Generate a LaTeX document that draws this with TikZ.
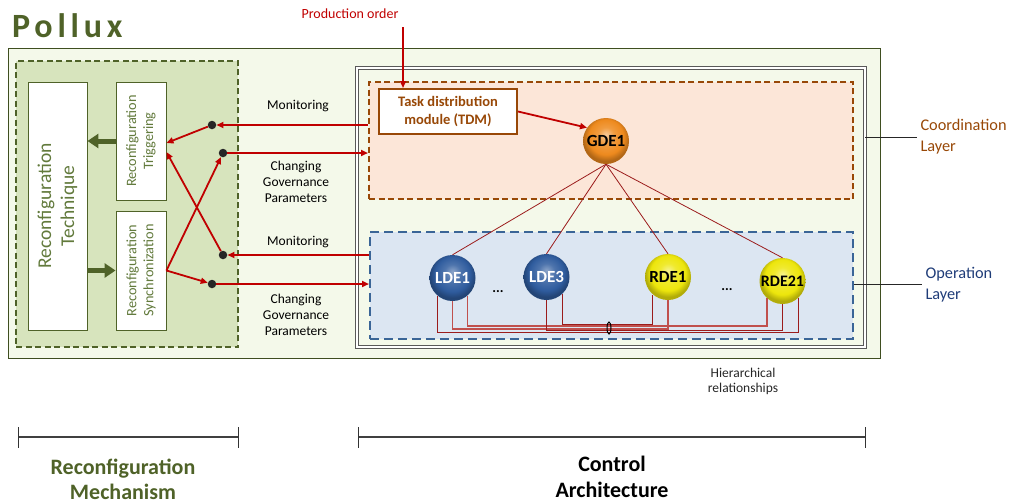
\documentclass[tikz,border=0pt]{standalone}
\usepackage{fontspec}
\setmainfont{Carlito}
\newfontfamily\titlefont{Carlito}[LetterSpace=14]
\usetikzlibrary{arrows.meta,shapes.geometric,calc}
\definecolor{pgreen}{HTML}{4F6228}
\definecolor{mechfill}{HTML}{D7E4BD}
\definecolor{pfill}{HTML}{F4F9EA}
\definecolor{techtext}{HTML}{627A3C}
\definecolor{myred}{HTML}{C00000}
\definecolor{brownc}{HTML}{984807}
\definecolor{coordfill}{HTML}{FCE6D8}
\definecolor{bluec}{HTML}{3A6597}
\definecolor{operfill}{HTML}{DCE6F2}
\definecolor{hred}{HTML}{9B1C1C}
\definecolor{lred}{HTML}{C0504D}
\definecolor{operlbl}{HTML}{1F3C78}
\definecolor{ballorange}{HTML}{EE8A1E}
\definecolor{ballblue}{HTML}{2F5C9E}
\definecolor{ballyellow}{HTML}{EDE60C}
\pgfdeclareradialshading{glossorange}{\pgfpoint{0bp}{7bp}}{color(0bp)=(ballorange!45!white); color(9bp)=(ballorange!85!white); color(19bp)=(ballorange); color(25bp)=(ballorange!75!black); color(50bp)=(ballorange!75!black)}
\pgfdeclareradialshading{glossblue}{\pgfpoint{0bp}{7bp}}{color(0bp)=(ballblue!55!white); color(9bp)=(ballblue!85!white); color(19bp)=(ballblue); color(25bp)=(ballblue!75!black); color(50bp)=(ballblue!75!black)}
\pgfdeclareradialshading{glossyellow}{\pgfpoint{0bp}{7bp}}{color(0bp)=(ballyellow!45!white); color(9bp)=(ballyellow!85!white); color(19bp)=(ballyellow); color(25bp)=(ballyellow!75!black); color(50bp)=(ballyellow!75!black)}
\begin{document}
\begin{tikzpicture}[x=1pt,y=-1pt,
  font=\fontsize{13.5}{16}\selectfont,
  redarr/.style={draw=myred, line width=1.8pt, -{Triangle[length=7pt,width=6pt]}},
  greenarr/.style={draw=pgreen, line width=5pt, -{Triangle[length=11pt,width=14pt]}},
  jdot/.style={circle, fill=black!85, minimum size=8.5pt, inner sep=0pt},
  whitebox/.style={draw=pgreen, fill=white, line width=0.9pt, inner sep=0pt, align=center, text=techtext},
  agent/.style={circle, minimum size=46pt, inner sep=0pt, font=\bfseries\fontsize{17}{17}\selectfont},
  hline/.style={draw=hred, line width=0.8pt},
  busdark/.style={draw=hred, line width=0.9pt},
  buslight/.style={draw=lred, line width=1.1pt},
  bracket/.style={draw=black!75, line width=1.3pt}
]
\useasboundingbox (0,0) rectangle (1014,501);

% title
\node[anchor=base west, inner sep=0pt, text=pgreen] (title) at (12,37) {\titlefont\bfseries\fontsize{34}{34}\selectfont Pollux};

% outer Pollux box
\node[draw=pgreen!80!black, fill=pfill, line width=1pt, minimum width=872pt, minimum height=310pt, inner sep=0pt] (pollux) at (444,203) {};

% reconfiguration mechanism
\node[draw=pgreen, fill=mechfill, line width=2pt, dash pattern=on 6pt off 3.5pt, minimum width=222pt, minimum height=286pt, inner sep=0pt] (mech) at (127,204) {};
\node[whitebox, rotate=90, minimum width=248pt, minimum height=59pt, font=\fontsize{19.5}{23}\selectfont] (tech) at (57.5,206) {Reconfiguration\\Technique};
\node[whitebox, rotate=90, minimum width=118pt, minimum height=50pt, font=\fontsize{14.3}{17}\selectfont] (trig) at (141,141) {Reconfiguration\\Triggering};
\node[whitebox, rotate=90, minimum width=119pt, minimum height=50pt, font=\fontsize{14.3}{17}\selectfont] (sync) at (141,270.5) {Reconfiguration\\Synchronization};

\draw[greenarr] (trig.north) -- (trig.north -| tech.south);
\draw[greenarr] (tech.south |- sync.north) -- (sync.north);

% control architecture
\node[draw=black!65, double=white, double distance=1.6pt, line width=0.9pt, fill=pfill, minimum width=508pt, minimum height=279pt, inner sep=0pt] (ctrl) at (611,207.5) {};
\node[draw=brownc, fill=coordfill, line width=2pt, dash pattern=on 6pt off 3.5pt, minimum width=484pt, minimum height=117pt, inner sep=0pt] (coord) at (611,140.5) {};
\node[draw=bluec, fill=operfill, line width=2pt, dash pattern=on 9pt off 5pt, minimum width=483pt, minimum height=107pt, inner sep=0pt] (oper) at (611.5,285.5) {};

% TDM
\node[draw=brownc, fill=white, line width=2pt, minimum width=138pt, minimum height=45pt, inner sep=0pt, align=center, text=brownc, font=\bfseries\fontsize{14.5}{18}\selectfont] (tdm) at (448,111.5) {Task distribution\\module\ (TDM)};

% production order
\node[text=myred, font=\fontsize{14}{16}\selectfont] (prod) at (350,14) {Production order};
\coordinate (pstart) at (403,27);
\draw[redarr] (pstart) -- (pstart |- tdm.north);

% dots
\node[jdot] (d1) at (212,125) {};
\node[jdot] (d2) at (223,153) {};
\node[jdot] (d3) at (223,255) {};
\node[jdot] (d4) at (212,284) {};

% red arrows
\draw[redarr] (coord.west |- d1) -- (d1);
\draw[redarr] (d2) -- (coord.west |- d2);
\draw[redarr] (oper.west |- d3) -- (d3);
\draw[redarr] (d4) -- (oper.west |- d4);
\draw[redarr] (d1) -- ([yshift=-2pt]trig.south);
\draw[redarr] (d3) -- ([yshift=-11pt]trig.south);
\draw[redarr] (sync.south) -- (d2);
\draw[redarr] (sync.south) -- (d4);

% labels between
\node (mon1) at (298,106) {Monitoring};
\node[align=center] (chg1) at (296,182) {Changing\\Governance\\Parameters};
\node (mon2) at (298,242) {Monitoring};
\node[align=center] (chg2) at (296,315) {Changing\\Governance\\Parameters};

% agents
\node[agent, shading=glossorange] (gde) at (606,141) {GDE1};
\node[agent, shading=glossblue, text=white] (lde1) at (452.5,278) {LDE1};
\node[agent, shading=glossblue, text=white] (lde3) at (546.5,277) {LDE3};
\node[agent, shading=glossyellow] (rde1) at (668,277) {RDE1};
\node[agent, shading=glossyellow, font=\bfseries\fontsize{16}{16}\selectfont] (rde21) at (782.5,281) {RDE21};
\node[font=\bfseries\fontsize{14}{14}\selectfont] (dots1) at (498,292) {...};
\node[font=\bfseries\fontsize{14}{14}\selectfont] (dots2) at (727,290) {...};

\draw[redarr] (tdm.east) -- (gde.145);

\draw[hline] (gde.south) -- (lde1.north);
\draw[hline] (gde.south) -- (lde3.north);
\draw[hline] (gde.south) -- (rde1.north);
\draw[hline] (gde.south) -- (rde21.north);

% bus lines
\coordinate (yA) at (0,332);
\coordinate (yB) at (0,329);
\coordinate (yC) at (0,326);
\coordinate (yD) at (0,324);
\coordinate (yE) at (0,330);
\draw[busdark] (lde1.-131) -- (lde1.-131 |- yA) -- (rde21.-48 |- yA) -- (rde21.-48);
\draw[buslight] (lde1.-90) -- (lde1.-90 |- yB) -- (rde1.-90 |- yB) -- (rde1.-90);
\draw[buslight] (lde1.-49) -- (lde1.-49 |- yC) -- (rde21.-132 |- yC) -- (rde21.-132);
\draw[busdark] (lde3.-48) -- (lde3.-48 |- yD) -- (rde1.-131 |- yD) -- (rde1.-131);
\draw[busdark] (lde3.-90) -- (lde3.-90 |- yE) -- (rde21.-90 |- yE) -- (rde21.-90);
\node[draw=black, line width=1pt, ellipse, minimum width=4pt, minimum height=12pt, inner sep=0pt] (bundle) at (609,328) {};

% layer labels
\node[anchor=west, align=left, text=brownc, font=\fontsize{16.3}{21}\selectfont] (coordlbl) at (917,137) {Coordination\\Layer};
\node[anchor=west, align=left, text=operlbl, font=\fontsize{16.3}{21}\selectfont] (operlbl) at (922,284.5) {Operation\\Layer};
\draw[black!85, line width=0.9pt] (ctrl.east |- coordlbl.west) -- (coordlbl.west);
\draw[black!85, line width=0.9pt] (oper.east |- operlbl.west) -- (operlbl.west);

\node[align=center, font=\fontsize{13.5}{15}\selectfont, text=black!85] (hier) at (743,381) {Hierarchical\\relationships};

% brackets
\coordinate (bl1) at (18,437);
\coordinate (br1) at (238,437);
\coordinate (bl2) at (358,437);
\coordinate (br2) at (865,437);
\draw[bracket] (bl1) -- (br1);
\draw[bracket] (bl2) -- (br2);
\draw[black!80, line width=0.8pt] (bl1) ++(0,-10) -- ++(0,21);
\draw[black!80, line width=0.8pt] (br1) ++(0,-10) -- ++(0,21);
\draw[black!80, line width=0.8pt] (bl2) ++(0,-10) -- ++(0,21);
\draw[black!80, line width=0.8pt] (br2) ++(0,-10) -- ++(0,21);

\node[align=center, text=pgreen, font=\bfseries\fontsize{22}{25}\selectfont] (mechlbl) at (123,479) {Reconfiguration\\Mechanism};
\node[align=center, text=black, font=\bfseries\fontsize{22}{26}\selectfont] (ctrllbl) at (612,477) {Control\\Architecture};
\end{tikzpicture}
\end{document}
